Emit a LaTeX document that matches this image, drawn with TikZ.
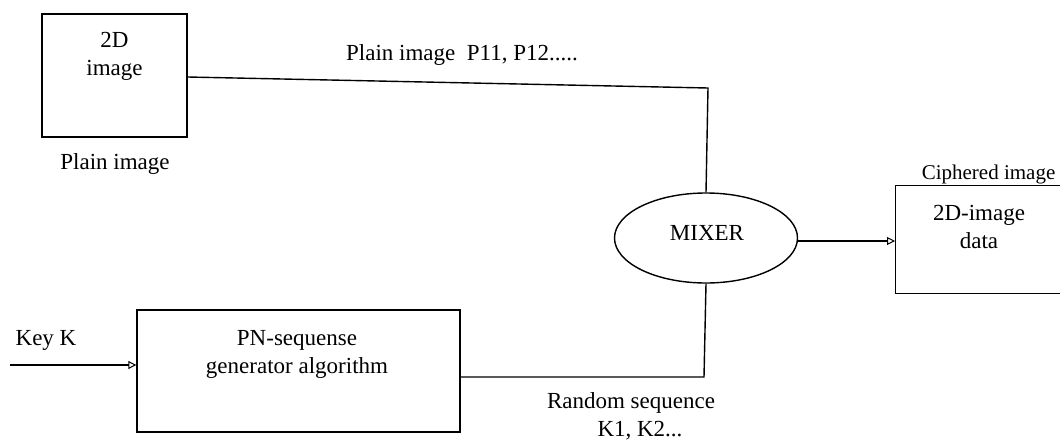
\documentclass[tikz,border=0pt]{standalone}
\usepackage{fontspec}
\setmainfont{Liberation Serif}
\usetikzlibrary{arrows.meta,shapes.geometric}
\begin{document}
\begin{tikzpicture}[x=1pt,y=-1pt,
  line width=1.4pt,
  lbl/.style={font=\fontsize{23}{28}\selectfont, align=center, inner sep=0pt},
  boxn/.style={draw, minimum width=#1, inner sep=0pt},
  opentip/.style={-{Triangle[open,length=8pt,width=8pt,line width=1pt]}}]
\useasboundingbox (0,0) rectangle (1060,447);
% boxes
\node[boxn=145, minimum height=123] (img) at (114.5,75.5) {};
\node[lbl, anchor=north] (imgt) at (114.5,32) {2D\\image};
\node[lbl, anchor=north] (plainlbl) at (115,153) {Plain image};
\node[boxn=323, minimum height=122] (pn) at (298.5,371) {};
\node[lbl, anchor=north] (pnt) at (297,330) {PN-sequense\\generator algorithm};
\node[draw, ellipse, minimum width=183, minimum height=90, inner sep=0pt] (mix) at (706,238) {};
\node[lbl] (mixt) at (707,233) {MIXER};
\node[boxn=180, minimum height=108, anchor=north west] (out) at (895,185) {};
\node[lbl, anchor=north] (outt) at (979,205) {2D-image\\data};
\node[lbl, anchor=north east, font=\fontsize{21}{25}\selectfont] (ciph) at (1056,164) {Ciphered image};
% coordinates
\coordinate (c1) at (708,88);
\coordinate (c2) at (704,377);
\coordinate (kin) at (10,365);
% connectors
\draw (img.east |- 0,77) -- (c1) -- (mix.north);
\node[lbl, anchor=north] (plaintop) at (462,44) {Plain image\enspace P11, P12.....};
\draw (pn.east |- 0,377) -- (c2) -- (mix.south);
\node[lbl, anchor=north] (rand) at (631,392) {Random sequence\\\hspace*{18pt}K1, K2...};
\draw[opentip] (kin) -- (pn.west |- kin);
\node[lbl, anchor=north] (key) at (46,330) {Key K};
\draw[opentip] (mix.east |- 0,241) -- (out.west |- 0,241);
\end{tikzpicture}
\end{document}
